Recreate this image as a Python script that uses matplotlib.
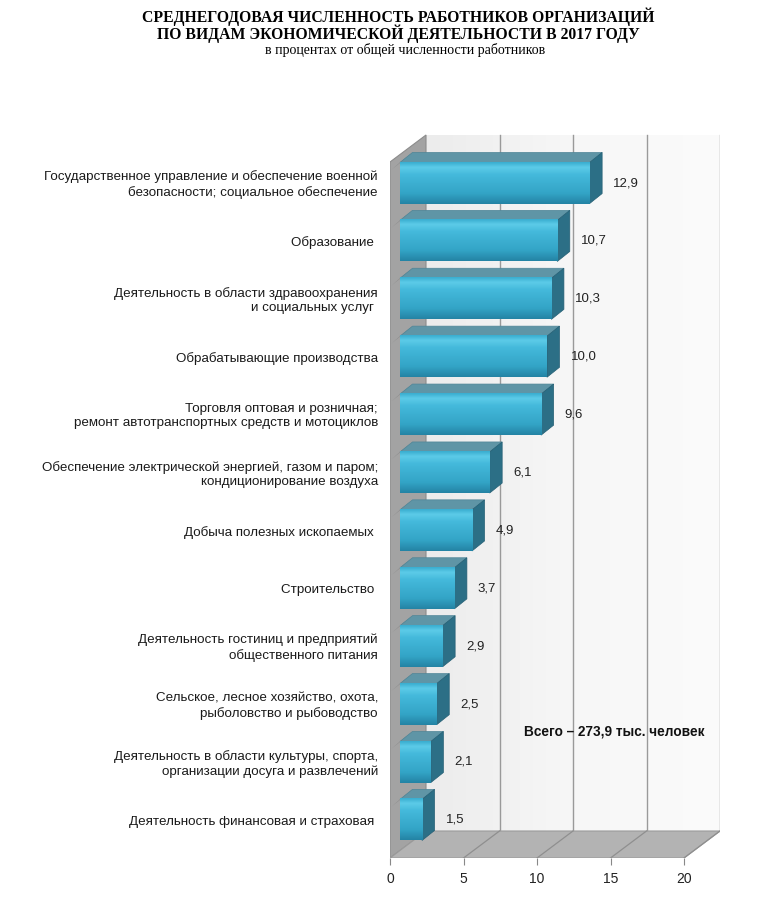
import numpy as np
import matplotlib
matplotlib.use("Agg")
import matplotlib.pyplot as plt
from matplotlib.patches import Polygon

categories = [
    "Государственное управление и обеспечение военной\nбезопасности; социальное обеспечение",
    "Образование ",
    "Деятельность в области здравоохранения\nи социальных услуг ",
    "Обрабатывающие производства",
    "Торговля оптовая и розничная;\nремонт автотранспортных средств и мотоциклов",
    "Обеспечение электрической энергией, газом и паром;\nкондиционирование воздуха",
    "Добыча полезных ископаемых ",
    "Строительство ",
    "Деятельность гостиниц и предприятий\nобщественного питания",
    "Сельское, лесное хозяйство, охота,\nрыболовство и рыбоводство",
    "Деятельность в области культуры, спорта,\nорганизации досуга и развлечений",
    "Деятельность финансовая и страховая ",
]
values = [12.9, 10.7, 10.3, 10.0, 9.6, 6.1, 4.9, 3.7, 2.9, 2.5, 2.1, 1.5]
xticks = [0, 5, 10, 15, 20]
total_note = "Всего – 273,9 тыс. человек"

W, H = 759, 900
PX = 14.7      # px per unit on x
SL = 57.9      # px per bar slot
DX = 36 / PX   # full depth of the box (x part)
DY = 27 / SL   # full depth of the box (y part)
BX = 10 / PX   # bar front offset from front plane
BDX = 12.5 / PX
BDY = 10 / SL
HH = 0.355     # half height of bar front

fig = plt.figure(figsize=(W / 100, H / 100), dpi=100)
ax = fig.add_axes([390 / W, 1 - 858 / H, 330 / W, (858 - 130) / H])
y_front = (858 - 183) / SL
y_top = (162 - 183) / SL
x_max = xticks[-1]
for s in ax.spines.values():
    s.set_visible(False)
ax.set_yticks([])

# back wall
grad = np.linspace(0, 1, 256).reshape(1, -1)
wall_cm = matplotlib.colors.LinearSegmentedColormap.from_list("w", ["#ececec", "#f7f7f7", "#fbfbfb"])
ax.imshow(grad, cmap=wall_cm, extent=[DX, x_max + DX, y_front - DY, y_top - DY],
          aspect="auto", origin="upper", zorder=0)
for v in xticks[1:]:
    ax.plot([v + DX, v + DX], [y_front - DY, y_top - DY], color="#9a9a9a", lw=1, zorder=1)

# left wall
ax.add_patch(Polygon([(0, y_front), (0, y_top), (DX, y_top - DY), (DX, y_front - DY)],
                     closed=True, fc="#a3a3a3", ec="#8c8c8c", lw=0.8, zorder=2))
# floor
ax.add_patch(Polygon([(0, y_front), (x_max, y_front), (x_max + DX, y_front - DY), (DX, y_front - DY)],
                     closed=True, fc="#b3b3b3", ec="#9a9a9a", lw=0.8, zorder=2))
for v in xticks[1:]:
    ax.plot([v, v + DX], [y_front, y_front - DY], color="#8f8f8f", lw=0.9, zorder=3)

# bars
front_cm = matplotlib.colors.LinearSegmentedColormap.from_list(
    "f", [(0, "#3aaed0"), (0.12, "#5ccbe8"), (0.3, "#44b9db"), (0.75, "#33a4c6"), (1, "#2484a5")])
vgrad = np.linspace(0, 1, 64).reshape(-1, 1)
for i, v in enumerate(values):
    x0, x1 = BX, v + BX
    yt, yb = i - HH, i + HH
    # shading on left wall
    ax.add_patch(Polygon([(x0 - 0.55, yt + 0.12), (x0, yt), (x0 + BDX, yt - BDY), (x0 + BDX - 0.55, yt - BDY + 0.12)],
                         closed=True, fc="#7e7e7e", ec="none", zorder=4))
    # top face
    ax.add_patch(Polygon([(x0, yt), (x1, yt), (x1 + BDX, yt - BDY), (x0 + BDX, yt - BDY)],
                         closed=True, fc="#5f95a6", ec="#4f8597", lw=0.5, zorder=5))
    # right face
    ax.add_patch(Polygon([(x1, yt), (x1 + BDX, yt - BDY), (x1 + BDX, yb - BDY), (x1, yb)],
                         closed=True, fc="#2c6f86", ec="#255f74", lw=0.5, zorder=5))
    # front face
    ax.imshow(vgrad, cmap=front_cm, extent=[x0, x1, yb, yt], aspect="auto",
              origin="upper", zorder=6)
    ax.text(x1 + 1.6, i, f"{v:.1f}".replace(".", ","), ha="left", va="center",
            fontsize=9.5, family="Liberation Sans", color="#222222", zorder=7)
    ax.text(-12 / PX, i + 0.03, categories[i], ha="right", va="center", fontsize=9.6,
            family="Liberation Sans", color="#1a1a1a", linespacing=1.25, clip_on=False)

ax.set_xlim(0, x_max + DX)
ax.set_ylim(y_front, (130 - 183) / SL)
ax.set_xticks(xticks)
ax.set_xticklabels([str(t) for t in xticks], family="Liberation Sans", fontsize=10, color="#222222")
ax.tick_params(axis="x", length=5, color="#888888", pad=5)

ax.text(15.24, 9.48, total_note, ha="center", va="center", fontsize=9.8,
        family="Liberation Sans", fontweight="bold", color="#111111", zorder=7)

fig.text(398 / W, 1 - 17 / H, "СРЕДНЕГОДОВАЯ ЧИСЛЕННОСТЬ РАБОТНИКОВ ОРГАНИЗАЦИЙ",
         ha="center", va="center", fontsize=11.3, family="Liberation Serif", fontweight="bold")
fig.text(398 / W, 1 - 34 / H, "ПО ВИДАМ ЭКОНОМИЧЕСКОЙ ДЕЯТЕЛЬНОСТИ В 2017 ГОДУ",
         ha="center", va="center", fontsize=11.3, family="Liberation Serif", fontweight="bold")
fig.text(405 / W, 1 - 50 / H, "в процентах от общей численности работников",
         ha="center", va="center", fontsize=10, family="Liberation Serif")

fig.savefig("out.png", dpi=100, facecolor="white")
